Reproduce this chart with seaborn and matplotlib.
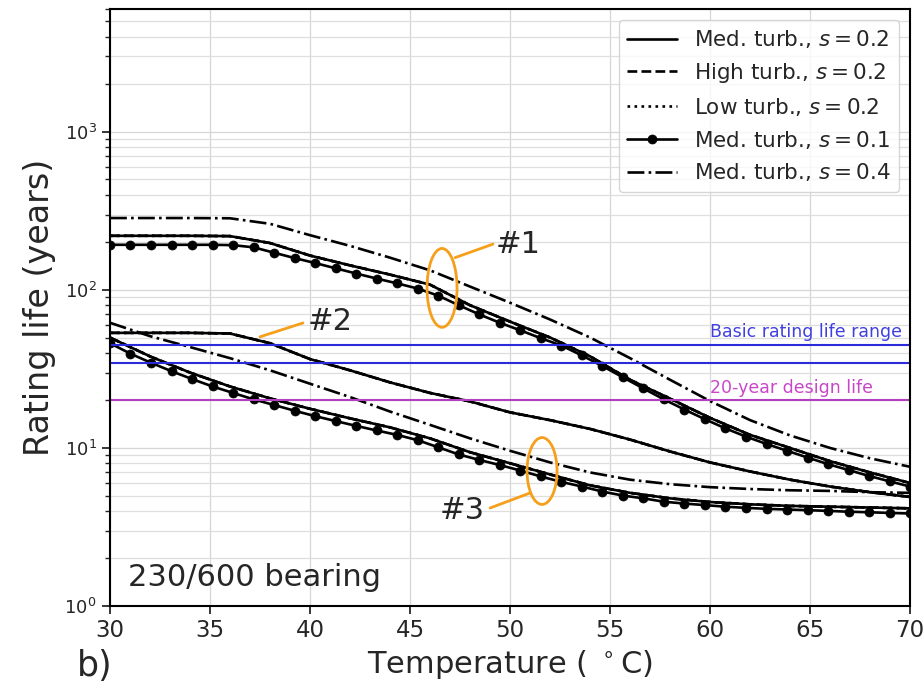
import numpy as np
import matplotlib
matplotlib.use('Agg')
import matplotlib.pyplot as plt
import seaborn as sns
from matplotlib.patches import Ellipse
from matplotlib.transforms import blended_transform_factory

# temperature grids (deg C)
temp_coarse = [30, 32, 34, 36, 38, 40, 42, 44, 46, 48, 50, 52, 54, 56, 58, 60, 62, 64, 66, 68, 70]
temp_fine = np.linspace(30, 70, 40)

# bearing position #1
life1_s02 = [220, 220, 220, 219, 198, 165, 143, 125, 108, 80, 63, 50, 38, 27, 20.5, 15.5, 12.1, 10, 8.25, 7.0, 6.0]
life1_s04 = [285, 285, 285, 284, 262, 222, 190, 160, 133, 105, 83, 65, 50, 37, 27, 19.8, 15, 12, 10, 8.6, 7.6]
life1_s01 = [193, 193, 193, 193, 193, 193, 192, 186, 172, 159, 148, 137, 127, 118, 110, 102,
             92, 80, 70, 62, 55.5, 49.5, 44.5, 38.5, 33, 28, 23.8, 20.3, 17.5, 15.2,
             13.3, 11.8, 10.6, 9.6, 8.7, 7.9, 7.25, 6.65, 6.15, 5.7]

# bearing position #2
life2_s02 = [53.5, 53.5, 53.5, 53, 46, 36.5, 31, 26, 22.3, 19.7, 16.8, 15, 13.2, 11.3, 9.5, 8.1, 7.1, 6.3, 5.7, 5.25, 4.9]

# bearing position #3
life3_s02 = [50, 38, 30, 24.5, 20.6, 17.7, 15.4, 13.5, 11.5, 9.4, 8.0, 6.8, 5.8, 5.2, 4.8, 4.55, 4.4, 4.3, 4.25, 4.2, 4.15]
life3_s04 = [62, 51, 43.5, 37, 31, 25.5, 21, 17, 14, 11.5, 9.6, 8.1, 7.0, 6.3, 5.9, 5.65, 5.5, 5.4, 5.35, 5.25, 5.2]
life3_s01 = [46, 39.5, 34.6, 30.6, 27.3, 24.5, 22.3, 20.3, 18.7, 17.2, 15.9, 14.8, 13.8, 12.9, 12.1, 11.2,
             10.1, 9.1, 8.4, 7.8, 7.2, 6.6, 6.1, 5.7, 5.3, 5.0, 4.8, 4.57, 4.45, 4.35,
             4.25, 4.18, 4.12, 4.08, 4.04, 4.0, 3.95, 3.92, 3.88, 3.85]

basic_life_range = [45, 34.5]
design_life = 20

legend_labels = ['Med. turb., $s = 0.2$', 'High turb., $s = 0.2$', 'Low turb., $s = 0.2$',
                 'Med. turb., $s = 0.1$', 'Med. turb., $s = 0.4$']

sns.set_style('ticks')
plt.rcParams['font.family'] = ['DejaVu Sans']
plt.rcParams['mathtext.fontset'] = 'dejavusans'

fig, ax = plt.subplots(figsize=(9.24, 6.84), dpi=100)
fig.subplots_adjust(left=0.119, right=0.985, bottom=0.114, top=0.987)
ax.set_yscale('log')

def curve(x, y, ls='-', marker=None, label=None):
	sns.lineplot(x=x, y=y, ax=ax, color='k', linestyle=ls, marker=marker, markersize=6.5,
				 markeredgecolor='k', markeredgewidth=0.5, lw=1.9, label=label, sort=False)

# s = 0.2 for three turbulence levels (overlapping)
curve(temp_coarse, life1_s02, '-', label=legend_labels[0])
curve(temp_coarse, life1_s02, '--', label=legend_labels[1])
curve(temp_coarse, life1_s02, ':', label=legend_labels[2])
curve(temp_fine, life1_s01, '-', marker='o', label=legend_labels[3])
curve(temp_coarse, life1_s04, '-.', label=legend_labels[4])
for ls in ['-', '--', ':']:
	curve(temp_coarse, life2_s02, ls)
	curve(temp_coarse, life3_s02, ls)
curve(temp_fine, life3_s01, '-', marker='o')
curve(temp_coarse, life3_s04, '-.')

for v in basic_life_range:
	ax.axhline(v, color='#2b2bd9', lw=1.5)
ax.axhline(design_life, color='#b13fc0', lw=1.5)
ax.text(60, basic_life_range[0] * 1.05, 'Basic rating life range', color='#4040e0', fontsize=12.5, va='bottom')
ax.text(60, design_life * 1.05, '20-year design life', color='#c847c8', fontsize=12.5, va='bottom')

# annotations
orange = '#f59f1b'
ymax = 6000
blend = blended_transform_factory(ax.transData, ax.transAxes)
for xc, yc, h in [(46.6, 103, 0.132), (51.6, 7.15, 0.112)]:
	ax.add_patch(Ellipse((xc, np.log10(yc) / np.log10(ymax)), 1.5, h, transform=blend,
						 fill=False, ec=orange, lw=2, zorder=5))
ax.plot([47.25, 49.15], [160, 195], color=orange, lw=2)
ax.text(49.3, 195, '#1', fontsize=22, va='center', ha='left')
ax.plot([37.5, 39.65], [50.5, 61.8], color=orange, lw=2)
ax.text(39.9, 62.7, '#2', fontsize=22, va='center', ha='left')
ax.plot([51.0, 49.0], [5.19, 4.17], color=orange, lw=2)
ax.text(48.75, 4.05, '#3', fontsize=22, va='center', ha='right')

ax.text(0.0225, 0.023, '230/600 bearing', transform=ax.transAxes, fontsize=22, va='bottom')
fig.text(0.083, 0.012, 'b)', fontsize=25, va='baseline')

ax.set_xlim(30, 70)
ax.set_ylim(1, ymax)
ax.set_xticks(range(30, 71, 5))
ax.grid(True, which='major', color='#d6d6d6', lw=0.9)
ax.grid(True, which='minor', axis='y', color='#dedede', lw=0.9)
ax.tick_params(axis='x', labelsize=16.5)
ax.tick_params(axis='y', labelsize=13)
ax.tick_params(which='major', length=6, width=1.3)
ax.tick_params(which='minor', length=3.5, width=1)
for sp in ax.spines.values():
	sp.set_color('k')
	sp.set_linewidth(1.5)
	sp.set_visible(True)
ax.set_xlabel('Temperature ( $^\\circ$C)', fontsize=22)
ax.set_ylabel('Rating life (years)', fontsize=24, labelpad=6)

handles, labels = ax.get_legend_handles_labels()
ax.legend(handles[:5], labels[:5], loc='upper right', fontsize=15.5, handlelength=2.3,
		  framealpha=0.8, edgecolor='#cccccc')

fig.savefig('out.png', dpi=100)
